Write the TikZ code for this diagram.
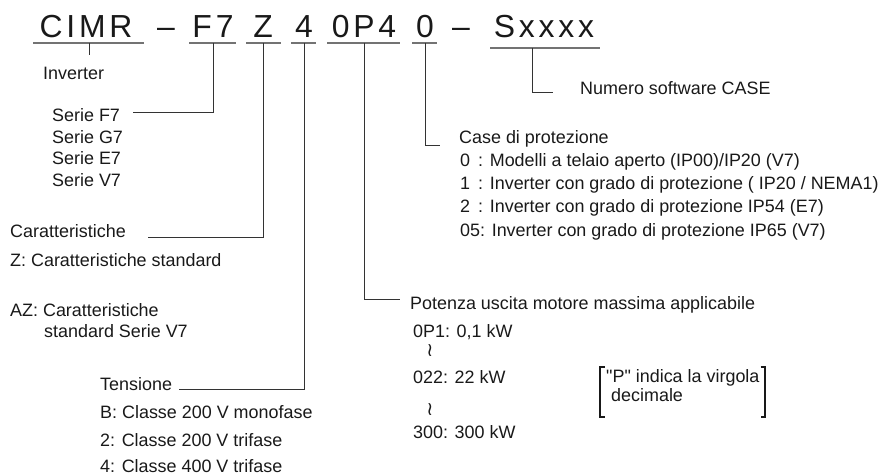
\documentclass[tikz,border=0pt]{standalone}
\usepackage{fontspec}
\setmainfont{Liberation Sans}
\newfontfamily\qfont{Liberation Sans}
\newfontfamily\symfont{DejaVu Sans}
\begin{document}
\begin{tikzpicture}[x=1bp,y=-1bp]
\useasboundingbox (0,0) rectangle (885,476);
\tikzset{
  lbl/.style={anchor=base west, inner sep=0pt, font=\fontsize{18}{21}\selectfont, text=black!90},
  code/.style={anchor=base, inner sep=0pt, font=\fontsize{32}{36}\selectfont\addfontfeature{LetterSpace=12}, text=black!90},
  wave/.style={inner sep=0pt, font=\symfont\fontsize{19}{19}\selectfont, text=black!90},
  uline/.style={draw=black!55, line width=1.6bp},
  conn/.style={draw=black!80, line width=0.9bp},
  brk/.style={draw=black!90, line width=2.6bp},
}
% code line
\node[code] (cimr) at (86,37.5) {CIMR};
\node[code] (d1) at (166,37.5) {–};
\node[code] (f7) at (213,37.5) {F7};
\node[code] (z) at (263,37.5) {Z};
\node[code] (four) at (304,37.5) {4};
\node[code] (op4) at (364,37.5) {0P4};
\node[code] (zero) at (425,37.5) {0};
\node[code] (d2) at (461,37.5) {–};
\node[code] (sx) at (544,37.5) {Sxxxx};
% underlines
\draw[uline] (33,43) -- (144,43);
\draw[uline] (189,43) -- (236,43);
\draw[uline] (246,43) -- (281,43);
\draw[uline] (291,43) -- (316,43);
\draw[uline] (327,43) -- (400,43);
\draw[uline] (412,43) -- (437,43);
\draw[uline] (490,48) -- (600,48);
% anchor points on the underlines
\coordinate (uC) at (89,43);
\coordinate (uF) at (213,43);
\coordinate (uZ) at (263,43);
\coordinate (uV) at (304,43);
\coordinate (uP) at (364,43);
\coordinate (uO) at (425,43);
\coordinate (uS) at (532,48);
% connector ends
\coordinate (eC) at (89,55);
\coordinate (eF) at (133,112);
\coordinate (eZ) at (148,237);
\coordinate (eV) at (179,389);
\coordinate (eP) at (400,299);
\coordinate (eO) at (440,145);
\coordinate (eS) at (553,92);
\draw[conn] (uC) -- (eC);
\draw[conn] (uF) |- (eF);
\draw[conn] (uZ) |- (eZ);
\draw[conn] (uV) |- (eV);
\draw[conn] (uP) |- (eP);
\draw[conn] (uO) |- (eO);
\draw[conn] (uS) |- (eS);
% left texts
\node[lbl] (inv) at (43,80) {Inverter};
\node[lbl] (serF) at (52,121.7) {Serie F7};
\node[lbl] (serG) at (52,143.3) {Serie G7};
\node[lbl] (serE) at (52,165) {Serie E7};
\node[lbl] (serV) at (52,186.7) {Serie V7};
\node[lbl] (car) at (10,238) {Caratteristiche};
\node[lbl] (zstd) at (10,266.7) {Z: Caratteristiche standard};
\node[lbl] (az) at (10,316.7) {AZ: Caratteristiche};
\node[lbl] (azstd) at (44,338) {standard Serie V7};
\node[lbl] (ten) at (100,390) {Tensione};
\node[lbl] (tB) at (100,418) {B: Classe 200 V monofase};
\node[lbl] (t2) at (100,446) {2: Classe 200 V trifase};
\node[lbl] (t4) at (100,472) {4: Classe 400 V trifase};
% right texts
\node[lbl] (num) at (580,95) {Numero software CASE};
\node[lbl] (case) at (459,144) {Case di protezione};
\node[lbl] (c0) at (460,167) {\makebox[18bp][l]{0}: Modelli a telaio aperto (IP00)/IP20 (V7)};
\node[lbl] (c1) at (460,190) {\makebox[18bp][l]{1}: Inverter con grado di protezione ( IP20 / NEMA1)};
\node[lbl] (c2) at (460,213) {\makebox[18bp][l]{2}: Inverter con grado di protezione IP54 (E7)};
\node[lbl] (c5) at (460,237) {05: Inverter con grado di protezione IP65 (V7)};
\node[lbl] (pot) at (410,310) {Potenza uscita motore massima applicabile};
\node[lbl] (p1) at (413,338) {0P1: 0,1 kW};
\node[wave] (w1) at (430,351) {≀};
\node[lbl] (p2) at (413,384) {022: 22 kW};
\node[wave] (w2) at (430,410) {≀};
\node[lbl] (p3) at (413,438) {300: 300 kW};
\node[lbl, font=\qfont\fontsize{18}{21}\selectfont] (pv) at (606,383) {"P" indica la virgola};
\node[lbl] (pd) at (611,401) {decimale};
% brackets
\draw[brk] (604.5,367) -- (600,367) -- (600,417) -- (604.5,417);
\draw[brk] (760.5,367) -- (765,367) -- (765,417) -- (760.5,417);
\end{tikzpicture}
\end{document}
